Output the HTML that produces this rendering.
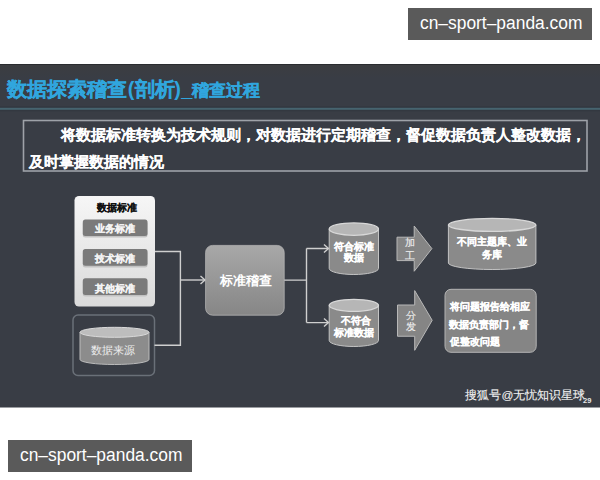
<!DOCTYPE html>
<html><head><meta charset="utf-8">
<style>
html,body{margin:0;padding:0;background:#fff;width:600px;height:480px;overflow:hidden;font-family:"Liberation Sans",sans-serif;}
.wm{position:absolute;width:184px;height:32px;background:#5a5a5a;color:#fff;font-size:17.4px;line-height:31px;box-sizing:border-box;padding-left:12px;white-space:nowrap;}
.wt{display:inline-block;transform:scaleY(1.08);transform-origin:0 21px;}
.t{position:absolute;white-space:nowrap;line-height:30px;}
.b{-webkit-text-stroke:0.2px currentColor;}
svg{position:absolute;left:0;top:0;}
</style></head>
<body>
<svg width="600" height="480" viewBox="0 0 600 480">
  <defs>
    <linearGradient id="gl" x1="0" y1="0" x2="0" y2="1">
      <stop offset="0" stop-color="#f6f6f6"/><stop offset="1" stop-color="#dadada"/>
    </linearGradient>
    <linearGradient id="gc" x1="0" y1="0" x2="0" y2="1">
      <stop offset="0" stop-color="#a8a8a8"/><stop offset="1" stop-color="#868686"/>
    </linearGradient>
    <linearGradient id="gtop" x1="0" y1="0" x2="0" y2="1">
      <stop offset="0" stop-color="#3c3d40"/><stop offset="1" stop-color="#393d45"/>
    </linearGradient>
  </defs>
  <rect x="0" y="64" width="600" height="343.5" fill="#393d45"/>
  <rect x="0" y="64" width="600" height="14" fill="url(#gtop)"/>
  <rect x="0" y="64" width="600" height="1" fill="#2a2c30"/>
  <rect x="0" y="106.3" width="600" height="5" fill="#333840"/>
  <rect x="0" y="107.8" width="600" height="2" fill="#46646f"/>
  <rect x="23.5" y="120.5" width="563.5" height="50.5" fill="none" stroke="#9ea2a8" stroke-width="1.6"/>
  <!-- standards box -->
  <rect x="74.5" y="196" width="80.5" height="110.5" rx="4.5" fill="url(#gl)"/>
  <g fill="#c2c2c2">
    <rect x="82.8" y="221.2" width="64.7" height="16.3" rx="2.5"/>
    <rect x="82.8" y="250.8" width="64.7" height="16.7" rx="2.5"/>
    <rect x="82.8" y="279.8" width="64.7" height="16.7" rx="2.5"/>
  </g>
  <g fill="#7a7a7a">
    <rect x="82.8" y="219.5" width="64.7" height="16.5" rx="2.5"/>
    <rect x="82.8" y="249" width="64.7" height="16.8" rx="2.5"/>
    <rect x="82.8" y="278.2" width="64.7" height="16.8" rx="2.5"/>
  </g>
  <!-- data source box -->
  <rect x="73" y="315" width="81.5" height="60.5" rx="5" fill="none" stroke="#6a7078" stroke-width="1.5"/>
  <path d="M80 332.3 L80 359.5 A34.5 5 0 0 0 149 359.5 L149 332.3 Z" fill="#8c8c8c" stroke="#bcbcbc" stroke-width="1"/>
  <ellipse cx="114.5" cy="332.3" rx="34.5" ry="5" fill="#bdbdbd" stroke="#dadada" stroke-width="1"/>
  <!-- connectors -->
  <g stroke="#cfcfcf" stroke-width="1.4" fill="none">
    <path d="M155 251.5 H180.4 V345.2 H154.5"/>
    <path d="M180.4 280 H205"/>
    <path d="M200.5 276 L205 280 L200.5 284"/>
    <path d="M284 280.1 H306.5 M306.5 248.5 V322.6 M306.5 248.5 H328.5 M306.5 322.6 H328.5"/>
    <path d="M324 244.5 L328.5 248.5 L324 252.5"/>
    <path d="M324 318.6 L328.5 322.6 L324 326.6"/>
  </g>
  <!-- center box -->
  <rect x="205.6" y="245.4" width="78.6" height="69.8" rx="7" fill="url(#gc)" stroke="#b2b2b2" stroke-width="0.8"/>
  <!-- cylinders -->
  <path d="M329.2 229.1 L329.2 268.5 A24.65 6 0 0 0 378.5 268.5 L378.5 229.1 Z" fill="#8a8a8a" stroke="#c4c4c4" stroke-width="1"/>
  <ellipse cx="353.85" cy="229.1" rx="24.65" ry="6.2" fill="#b6b6b6" stroke="#d8d8d8" stroke-width="1.3"/>
  <path d="M329.2 305.3 L329.2 340.5 A24.65 6 0 0 0 378.5 340.5 L378.5 305.3 Z" fill="#8a8a8a" stroke="#c4c4c4" stroke-width="1"/>
  <ellipse cx="353.85" cy="305.3" rx="24.65" ry="6" fill="#b6b6b6" stroke="#d8d8d8" stroke-width="1.3"/>
  <!-- block arrows -->
  <path d="M397 237.2 H414.2 V226 L431.9 248.6 L414.2 271.25 V260.6 H397 Z" fill="#858585" stroke="#b8b8b8" stroke-width="1"/>
  <path d="M397.5 305 H414.7 V290.6 L432.2 320.3 L414.7 350.3 V336.25 H397.5 Z" fill="#858585" stroke="#b8b8b8" stroke-width="1"/>
  <!-- right cylinder -->
  <path d="M448.4 224.9 L448.4 263 A43.75 6.5 0 0 0 535.9 263 L535.9 224.9 Z" fill="#8a8a8a" stroke="#c4c4c4" stroke-width="1"/>
  <ellipse cx="492.15" cy="224.9" rx="43.75" ry="6.5" fill="#b6b6b6" stroke="#d8d8d8" stroke-width="1.3"/>
  <!-- right rect -->
  <rect x="445" y="289.3" width="91.2" height="63" rx="6" fill="#858585" stroke="#b4b4b4" stroke-width="1"/>
</svg>

<div class="t" style="left:7.30px;top:73.70px;font-size:20px;font-weight:bold;color:#30a6de;-webkit-text-stroke:0.3px currentColor;">数据探索稽查</div>
<div class="t" style="left:127.70px;top:73.70px;font-size:20px;font-weight:bold;color:#30a6de;-webkit-text-stroke:0px currentColor;">(</div>
<div class="t" style="left:135.30px;top:73.90px;font-size:20px;font-weight:bold;color:#30a6de;-webkit-text-stroke:0.3px currentColor;">剖析</div>
<div class="t" style="left:174.30px;top:73.70px;font-size:20px;font-weight:bold;color:#30a6de;-webkit-text-stroke:0px currentColor;">)</div>
<div class="t" style="left:181.30px;top:73.50px;font-size:20px;font-weight:bold;color:#30a6de;-webkit-text-stroke:0px currentColor;">_</div>
<div class="t" style="left:192.00px;top:75.70px;font-size:17px;font-weight:bold;color:#30a6de;-webkit-text-stroke:0.3px currentColor;">稽查过程</div>
<div class="t" style="left:60.50px;top:120.30px;font-size:15px;font-weight:bold;color:#ffffff;-webkit-text-stroke:0.1px currentColor;">将数据标准转换为技术规则，对数据进行定期稽查，督促数据负责人整改数据，</div>
<div class="t" style="left:28.60px;top:147.40px;font-size:15px;font-weight:bold;color:#ffffff;-webkit-text-stroke:0.1px currentColor;">及时掌握数据的情况</div>
<div class="t" style="left:97.20px;top:193.30px;font-size:9.7px;font-weight:bold;color:#111111;-webkit-text-stroke:0.2px currentColor;">数据标准</div>
<div class="t" style="left:94.90px;top:214.30px;font-size:10px;font-weight:bold;color:#f4f4f4;-webkit-text-stroke:0.2px currentColor;">业务标准</div>
<div class="t" style="left:94.80px;top:243.75px;font-size:10px;font-weight:bold;color:#f4f4f4;-webkit-text-stroke:0.2px currentColor;">技术标准</div>
<div class="t" style="left:94.80px;top:273.50px;font-size:10px;font-weight:bold;color:#f4f4f4;-webkit-text-stroke:0.2px currentColor;">其他标准</div>
<div class="t" style="left:91.00px;top:335.40px;font-size:11px;font-weight:normal;color:#eeeeee;-webkit-text-stroke:0px currentColor;">数据来源</div>
<div class="t" style="left:219.90px;top:266.30px;font-size:12.5px;font-weight:bold;color:#ffffff;-webkit-text-stroke:0px currentColor;">标准稽查</div>
<div class="t" style="left:334.20px;top:232.40px;font-size:10px;font-weight:bold;color:#ffffff;-webkit-text-stroke:0.2px currentColor;">符合标准</div>
<div class="t" style="left:344.00px;top:243.20px;font-size:10px;font-weight:bold;color:#ffffff;-webkit-text-stroke:0.2px currentColor;">数据</div>
<div class="t" style="left:341.00px;top:306.00px;font-size:10px;font-weight:bold;color:#ffffff;-webkit-text-stroke:0.2px currentColor;">不符合</div>
<div class="t" style="left:333.80px;top:317.60px;font-size:10px;font-weight:bold;color:#ffffff;-webkit-text-stroke:0.2px currentColor;">标准数据</div>
<div class="t" style="left:405.20px;top:228.40px;font-size:10px;font-weight:normal;color:#eeeeee;-webkit-text-stroke:0.15px currentColor;">加</div>
<div class="t" style="left:405.20px;top:241.00px;font-size:10px;font-weight:normal;color:#eeeeee;-webkit-text-stroke:0.15px currentColor;">工</div>
<div class="t" style="left:405.60px;top:300.50px;font-size:10px;font-weight:normal;color:#eeeeee;-webkit-text-stroke:0.15px currentColor;">分</div>
<div class="t" style="left:405.60px;top:312.20px;font-size:10px;font-weight:normal;color:#eeeeee;-webkit-text-stroke:0.15px currentColor;">发</div>
<div class="t" style="left:457.20px;top:227.25px;font-size:10px;font-weight:bold;color:#ffffff;-webkit-text-stroke:0.2px currentColor;">不同主题库、业</div>
<div class="t" style="left:482.00px;top:240.40px;font-size:10px;font-weight:bold;color:#ffffff;-webkit-text-stroke:0.2px currentColor;">务库</div>
<div class="t" style="left:450.10px;top:291.60px;font-size:10px;font-weight:bold;color:#ffffff;-webkit-text-stroke:0.2px currentColor;">将问题报告给相应</div>
<div class="t" style="left:449.00px;top:310.00px;font-size:10px;font-weight:bold;color:#ffffff;-webkit-text-stroke:0.2px currentColor;">数据负责部门，督</div>
<div class="t" style="left:450.00px;top:326.60px;font-size:10px;font-weight:bold;color:#ffffff;-webkit-text-stroke:0.2px currentColor;">促整改问题</div>
<div class="t" style="left:465.40px;top:380.30px;font-size:11.75px;font-weight:normal;color:#f2f2f2;-webkit-text-stroke:0.1px currentColor;">搜狐号@无忧知识星球</div>
<div class="t" style="left:583.00px;top:386.00px;font-size:7.5px;font-weight:bold;color:#e8e8e8;-webkit-text-stroke:0px currentColor;">29</div>
<div class="wm" style="left:408px;top:8px;"><span class="wt">cn–sport–panda.com</span></div>
<div class="wm" style="left:8px;top:440px;"><span class="wt">cn–sport–panda.com</span></div>
</body></html>
